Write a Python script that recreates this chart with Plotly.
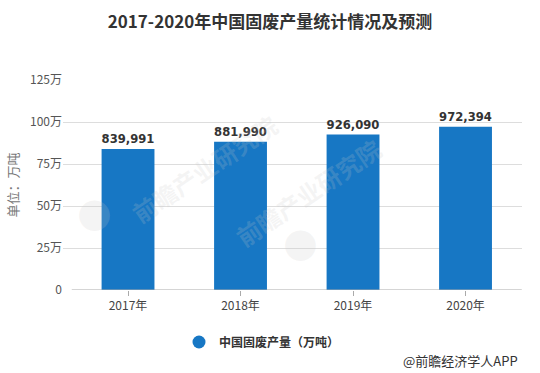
import plotly.graph_objects as go

categories = ["2017年", "2018年", "2019年", "2020年"]
values = [839991, 881990, 926090, 972394]
value_labels = ["839,991", "881,990", "926,090", "972,394"]
tick_vals = [0, 250000, 500000, 750000, 1000000, 1250000]
tick_text = ["0", "25万", "50万", "75万", "100万", "125万"]
series_name = "中国固废产量（万吨）"

BAR = "#1777c4"
CJK = "Noto Sans CJK SC"

W, H = 540, 373
L, R, T, B = 63, 18, 80, 83


def px(x):
    return (x - L) / (W - L - R)


def py(y):
    return (H - B - y) / (H - T - B)


fig = go.Figure()
fig.add_trace(go.Bar(
    x=categories, y=values, text=value_labels, textposition="outside",
    textfont=dict(family="DejaVu Sans", size=13, color="#333333", weight="bold"),
    marker=dict(color=BAR, line=dict(width=0)), width=0.47,
    showlegend=False, cliponaxis=False, name=series_name,
))
fig.add_trace(go.Scatter(
    x=[None], y=[None], mode="markers", name=series_name,
    marker=dict(symbol="circle", size=13, color=BAR), showlegend=True,
))

# baseline axis
fig.add_shape(type="line", xref="x", yref="y", x0=-0.5, x1=3.5, y0=0, y1=0,
              line=dict(color="#aaaaaa", width=1))

# watermarks
for (x, y) in [(122, 168), (390, 192)]:
    fig.add_annotation(x=px(x), y=py(y), xref="paper", yref="paper",
                       text="<b>前瞻产业研究院</b>", showarrow=False, textangle=-34,
                       font=dict(family=CJK, size=24, color="rgba(200,200,200,0.2)"))
for (x, y) in [(75, 237), (300, 267)]:
    fig.add_annotation(x=px(x), y=py(y), xref="paper", yref="paper",
                       text="●", showarrow=False,
                       font=dict(family="DejaVu Sans", size=40, color="rgba(200,200,200,0.2)"))

fig.add_annotation(x=px(520), y=py(360), xref="paper", yref="paper",
                   xanchor="right", yanchor="middle", text="@前瞻经济学人APP",
                   showarrow=False, font=dict(family=CJK, size=13, color="#333333"))

fig.update_layout(
    width=W, height=H,
    margin=dict(l=L, r=R, t=T, b=B, autoexpand=False),
    paper_bgcolor="white", plot_bgcolor="white",
    title=dict(text="<b>2017-2020年中国固废产量统计情况及预测</b>", x=0.5, xanchor="center",
               yref="container", y=1 - 22 / H, yanchor="middle",
               font=dict(family=CJK, size=17, color="#333333")),
    xaxis=dict(type="category", range=[-0.578, 3.502], showgrid=False, showline=False,
               ticks="outside", ticklen=5, tickcolor="#aaaaaa", automargin=False,
               tickfont=dict(family=CJK, size=12, color="#444444")),
    yaxis=dict(range=[0, 1250000], tickvals=tick_vals, ticktext=tick_text,
               showgrid=True, gridcolor="#dddddd", gridwidth=1, zeroline=False,
               showline=False, automargin=False,
               tickfont=dict(family=CJK, size=12, color="#555555"),
               title=dict(text="单位：万吨", font=dict(family=CJK, size=13, color="#777777"),
                          standoff=8)),
    legend=dict(orientation="h", x=px(262), xanchor="center", y=py(342), yanchor="middle",
                font=dict(family=CJK, size=12, color="#333333", weight="bold"),
                itemsizing="trace"),
    bargap=0.53,
)

fig.write_html("out.html", config={"displayModeBar": False},
               post_script="document.body.style.margin='0';document.body.style.padding='0';")
